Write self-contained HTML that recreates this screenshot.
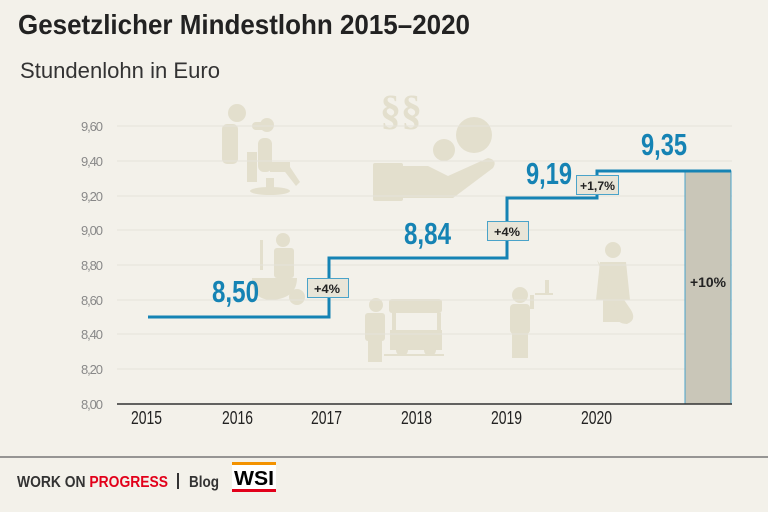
<!DOCTYPE html>
<html><head><meta charset="utf-8"><style>
body{margin:0;background:#f3f1ea;}
svg{display:block}
.n{font-family:"Liberation Sans",sans-serif;}
</style></head><body>
<svg width="768" height="512" viewBox="0 0 768 512" xmlns="http://www.w3.org/2000/svg">
<rect width="768" height="512" fill="#f3f1ea"/>
<text x="18" y="34" class="n" font-size="28" font-weight="bold" fill="#222" textLength="452" lengthAdjust="spacingAndGlyphs">Gesetzlicher Mindestlohn 2015–2020</text>
<text x="20" y="78" class="n" font-size="22" fill="#333" textLength="200" lengthAdjust="spacingAndGlyphs">Stundenlohn in Euro</text>
<g fill="#e3dfcd">
<circle cx="237" cy="113" r="9"/><rect x="222" y="124" width="16" height="40" rx="5"/><rect x="252" y="122" width="18" height="8" rx="4"/><circle cx="267" cy="125" r="7"/>
<rect x="258" y="138" width="14" height="34" rx="6"/><rect x="247" y="152" width="10" height="30"/><ellipse cx="270" cy="191" rx="20" ry="4"/><rect x="266" y="178" width="8" height="12"/><rect x="270" y="162" width="20" height="10"/><polygon points="288,164 300,182 296,186 282,168"/>
<text x="380" y="124" font-family="Liberation Serif, serif" font-size="42" font-weight="bold">§§</text>
<circle cx="474" cy="135" r="18"/><circle cx="444" cy="150" r="11"/>
<rect x="373" y="163" width="30" height="38" rx="2"/><path d="M403 166 h25 l20 10 l40 -18 q10 2 5 10 l-40 30 h-50z"/>
<circle cx="283" cy="240" r="7"/><rect x="274" y="248" width="20" height="30" rx="3"/><rect x="260" y="240" width="3" height="30"/><path d="M252 278 l45 0 q0 20 -25 22 q-20 0 -20 -22z"/><circle cx="297" cy="297" r="8"/>
<circle cx="376" cy="305" r="7"/><rect x="365" y="313" width="20" height="28" rx="3"/><rect x="368" y="340" width="14" height="22"/>
<rect x="389" y="299" width="53" height="14" rx="3"/><rect x="392" y="313" width="4" height="18"/><rect x="437" y="313" width="4" height="18"/><rect x="390" y="330" width="52" height="20"/><circle cx="402" cy="350" r="6"/><circle cx="430" cy="350" r="6"/><rect x="384" y="354" width="60" height="2"/>
<circle cx="520" cy="295" r="8"/><rect x="510" y="304" width="20" height="30" rx="4"/><rect x="512" y="334" width="16" height="24"/><rect x="530" y="295" width="4" height="14"/><rect x="535" y="293" width="18" height="2"/><rect x="545" y="280" width="4" height="13"/>
<circle cx="613" cy="250" r="8"/><path d="M600 262 h26 l4 38 h-34z"/><rect x="603" y="298" width="20" height="24"/><path d="M597 260 l34 50 q6 10 -4 14 q-12 0 -10 -12z"/>
</g>
<g stroke="#e6e3da" stroke-width="1">
<line x1="117" y1="126" x2="732" y2="126"/><line x1="117" y1="161" x2="732" y2="161"/><line x1="117" y1="196" x2="732" y2="196"/><line x1="117" y1="230" x2="732" y2="230"/><line x1="117" y1="265" x2="732" y2="265"/><line x1="117" y1="300" x2="732" y2="300"/><line x1="117" y1="334" x2="732" y2="334"/><line x1="117" y1="369" x2="732" y2="369"/>
</g>
<g class="n" font-size="13" fill="#888">
<text x="81" y="131" textLength="22">9,60</text><text x="81" y="166" textLength="22">9,40</text><text x="81" y="201" textLength="22">9,20</text><text x="81" y="235" textLength="22">9,00</text><text x="81" y="270" textLength="22">8,80</text><text x="81" y="305" textLength="22">8,60</text><text x="81" y="339" textLength="22">8,40</text><text x="81" y="374" textLength="22">8,20</text><text x="81" y="409" textLength="22">8,00</text>
</g>
<rect x="685" y="171" width="46" height="233" fill="#c9c6b8" stroke="#4aa3c9" stroke-width="1"/>
<text x="690" y="287" class="n" font-size="14" font-weight="bold" fill="#222" textLength="36" lengthAdjust="spacingAndGlyphs">+10%</text>
<line x1="117" y1="404" x2="732" y2="404" stroke="#333" stroke-width="1.5"/>
<polyline points="148,317 329,317 329,258 507,258 507,198 597,198 597,171 731,171" fill="none" stroke="#1583b4" stroke-width="3"/>
<g class="n" font-size="18" fill="#222">
<text x="131" y="424" textLength="31" lengthAdjust="spacingAndGlyphs">2015</text><text x="222" y="424" textLength="31" lengthAdjust="spacingAndGlyphs">2016</text><text x="311" y="424" textLength="31" lengthAdjust="spacingAndGlyphs">2017</text><text x="401" y="424" textLength="31" lengthAdjust="spacingAndGlyphs">2018</text><text x="491" y="424" textLength="31" lengthAdjust="spacingAndGlyphs">2019</text><text x="581" y="424" textLength="31" lengthAdjust="spacingAndGlyphs">2020</text>
</g>
<g class="n" font-size="31" font-weight="bold" fill="#1583b4">
<text x="212" y="302" textLength="47" lengthAdjust="spacingAndGlyphs">8,50</text><text x="404" y="244" textLength="47" lengthAdjust="spacingAndGlyphs">8,84</text><text x="526" y="184" textLength="46" lengthAdjust="spacingAndGlyphs">9,19</text><text x="641" y="155" textLength="46" lengthAdjust="spacingAndGlyphs">9,35</text>
</g>
<g stroke="#4aa3c9" stroke-width="1" fill="#e8e5d8">
<rect x="307.5" y="278.5" width="41" height="19"/><rect x="487.5" y="221.5" width="41" height="19"/><rect x="576.5" y="175.5" width="42" height="19"/>
</g>
<g class="n" font-size="12" font-weight="bold" fill="#222">
<text x="314" y="293" textLength="26" lengthAdjust="spacingAndGlyphs">+4%</text><text x="494" y="236" textLength="26" lengthAdjust="spacingAndGlyphs">+4%</text><text x="580" y="190" textLength="35" lengthAdjust="spacingAndGlyphs">+1,7%</text>
</g>
<line x1="0" y1="457" x2="768" y2="457" stroke="#777" stroke-width="1.5"/>
<text x="17" y="487" class="n" font-size="16" font-weight="bold" fill="#333" textLength="151" lengthAdjust="spacingAndGlyphs">WORK ON <tspan fill="#e2001a">PROGRESS</tspan></text>
<rect x="177" y="473" width="2" height="16" fill="#333"/>
<text x="189" y="487" class="n" font-size="16" font-weight="bold" fill="#333" textLength="30" lengthAdjust="spacingAndGlyphs">Blog</text>
<rect x="232" y="462" width="44" height="30" fill="#fff"/>
<rect x="232" y="462" width="44" height="3" fill="#f39200"/>
<rect x="232" y="489" width="44" height="3" fill="#e2001a"/>
<text x="234" y="485" font-family="Liberation Sans, sans-serif" font-size="20" font-weight="bold" fill="#000" textLength="40" lengthAdjust="spacingAndGlyphs">WSI</text>
</svg>
</body></html>
